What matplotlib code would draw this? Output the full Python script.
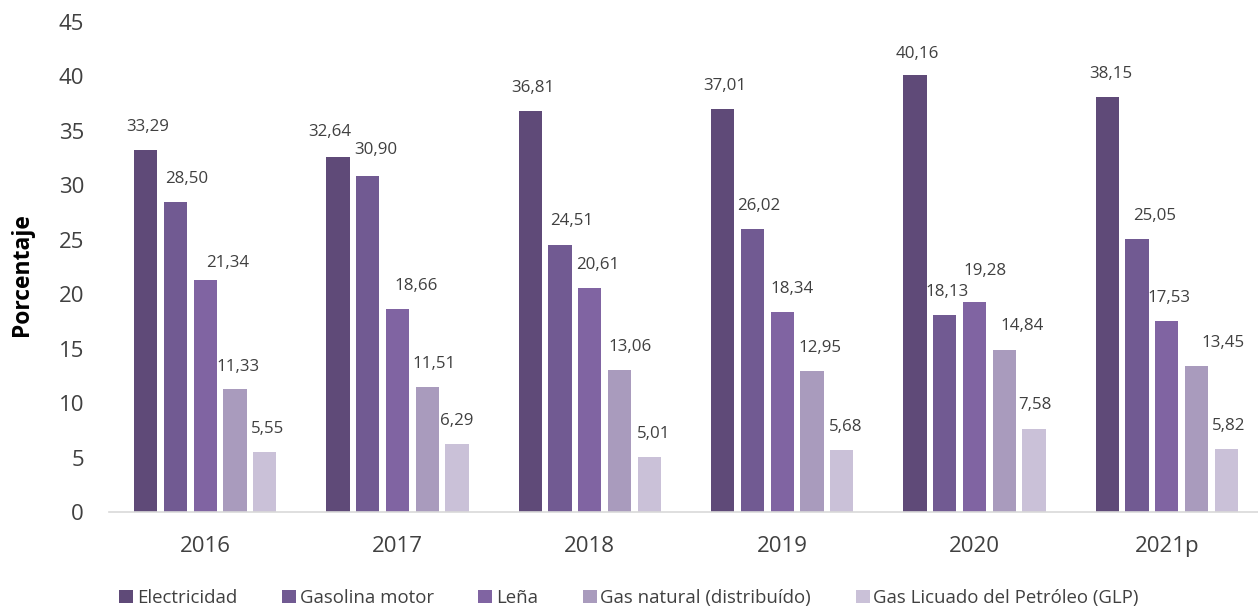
import matplotlib
matplotlib.use("Agg")
import matplotlib.pyplot as plt
import numpy as np

years = ["2016", "2017", "2018", "2019", "2020", "2021p"]
series_names = ["Electricidad", "Gasolina motor", "Leña",
                "Gas natural (distribuído)", "Gas Licuado del Petróleo (GLP)"]
electricidad = [33.29, 32.64, 36.81, 37.01, 40.16, 38.15]
gasolina = [28.50, 30.90, 24.51, 26.02, 18.13, 25.05]
lena = [21.34, 18.66, 20.61, 18.34, 19.28, 17.53]
gas_natural = [11.33, 11.51, 13.06, 12.95, 14.84, 13.45]
glp = [5.55, 6.29, 5.01, 5.68, 7.58, 5.82]
colors = ["#5F4A78", "#715A92", "#8064A2", "#A99BBD", "#CAC1D8"]

# label nudges in pixels (dx), per series and year, as placed in the original
label_dx = [
    [2, -8, 2, 2, 2, 3],
    [11, 8, 12, 6, 2, 18],
    [23, 19, 8, 10, 11, 2],
    [3, 7, 11, 8, 18, 26],
    [3, 0, 4, 4, 1, 2],
]
label_dy = [
    [23, 25, 23, 23, 21, 23],
    [23, 26, 24, 23, 23, 23],
    [17, 23, 23, 23, 31, 23],
    [22, 23, 23, 23, 24, 23],
    [23, 23, 23, 23, 24, 23],
]

plt.rcParams['font.family'] = ['Open Sans', 'DejaVu Sans']

fig = plt.figure(figsize=(12.58, 6.09), dpi=100)
ax = fig.add_axes([109 / 1258, 1 - 512 / 609, 1154 / 1258, 490 / 609])

data = [electricidad, gasolina, lena, gas_natural, glp]
x = np.arange(len(years))
step = 0.1545
width = 0.121
for i, (vals, name, c) in enumerate(zip(data, series_names, colors)):
    pos = x + (i - 2) * step
    ax.bar(pos, vals, width, color=c, label=name)
    for j, (p, v) in enumerate(zip(pos, vals)):
        ax.annotate(f"{v:.2f}".replace(".", ","), (p, v),
                    xytext=(label_dx[i][j], label_dy[i][j]),
                    textcoords="offset pixels", ha="center", va="center",
                    fontsize=12.2, color="#404040")

ax.set_xlim(-0.5, len(years) - 0.5)
ax.set_ylim(0, 45)
ax.set_yticks(range(0, 46, 5))
ax.set_xticks(x)
ax.set_xticklabels(years)
ax.tick_params(axis='both', length=0, labelsize=16, colors="#404040")
ax.tick_params(axis='y', pad=18)
ax.tick_params(axis='x', pad=17)
for s in ["top", "right", "left"]:
    ax.spines[s].set_visible(False)
ax.spines["bottom"].set_color("#D9D9D9")
ax.spines["bottom"].set_linewidth(1.2)
fig.text(22 / 1258, 1 - 275 / 609, "Porcentaje", rotation=90, ha="center", va="center",
         fontsize=16.5, fontweight="bold", color="#000000")

fig.legend(loc="center", bbox_to_anchor=(0.5, 1 - 598 / 609), ncol=5, frameon=False,
           fontsize=13.4, handlelength=0.75, handleheight=0.75, handletextpad=0.2,
           columnspacing=2.4, labelcolor="#404040")

fig.savefig("out.png", dpi=100)
